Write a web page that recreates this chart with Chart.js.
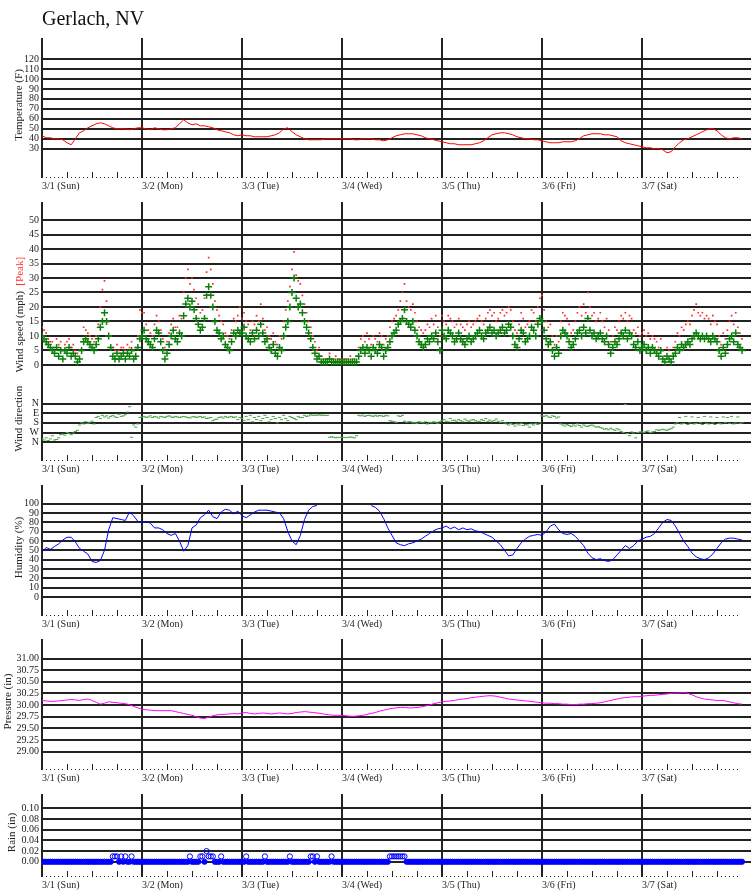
<!DOCTYPE html>
<html>
<head>
<meta charset="utf-8">
<title>Gerlach, NV</title>
<script src="https://cdn.jsdelivr.net/npm/chart.js@4.4.1/dist/chart.umd.min.js"></script>
<style>
  body { margin: 0; background: #fff; }
  #wrap { position: relative; width: 751px; height: 895px; overflow: hidden; }
  #wrap canvas { position: absolute; left: 0; }
</style>
</head>
<body>
<div id="wrap">
  <canvas id="c-temp" width="751" height="194" style="top:0px"></canvas>
  <canvas id="c-wind" width="751" height="284" style="top:193px"></canvas>
  <canvas id="c-hum" width="751" height="156" style="top:476px"></canvas>
  <canvas id="c-pres" width="751" height="156" style="top:630px"></canvas>
  <canvas id="c-rain" width="751" height="108" style="top:785px"></canvas>
</div>
<script>
// day labels on the time axis (one every 24 h)
const dayLabels = ['3/1 (Sun)', '3/2 (Mon)', '3/3 (Tue)', '3/4 (Wed)', '3/5 (Thu)', '3/6 (Fri)', '3/7 (Sat)'];

// tick values / labels for each panel
const tempTicks = [30, 40, 50, 60, 70, 80, 90, 100, 110, 120];
const speedTicks = [0, 5, 10, 15, 20, 25, 30, 35, 40, 45, 50];
const dirTicks = [0, 90, 180, 270, 360];
const dirLabels = ['N', 'E', 'S', 'W', 'N'];
const humTicks = [0, 10, 20, 30, 40, 50, 60, 70, 80, 90, 100];
const presTicks = [29.00, 29.25, 29.50, 29.75, 30.00, 30.25, 30.50, 30.75, 31.00];
const rainTicks = [0.00, 0.02, 0.04, 0.06, 0.08, 0.10];

// time bases: hourly readings and half-hourly readings from 3/1 00:00
const hours = Array.from({ length: 169 }, (_, i) => i);
const halfHours = Array.from({ length: 337 }, (_, i) => i / 2);
const hourTicks = Array.from({ length: 168 }, (_, i) => i);

// temperature (F), hourly
const tempF = [
  43, 41, 41, 40, 40, 39, 36, 34, 40, 46, 48, 51, 53, 55, 56, 55, 53, 51, 50, 50, 50, 49, 50, 51,
  51, 50, 49, 51, 50, 49, 49, 50, 51, 55, 59, 56, 54, 55, 53, 53, 52, 51, 49, 48, 47, 46, 44, 43,
  44, 43, 43, 42, 42, 42, 42, 43, 44, 46, 50, 51, 47, 44, 42, 40, 39, 39, 39, 39, 40, 40, 40, 40,
  40, 40, 40, 39, 39, 40, 40, 40, 39, 39, 38, 39, 41, 43, 44, 45, 45, 45, 44, 43, 41, 40, 39, 38,
  37, 36, 35, 35, 34, 34, 34, 34, 35, 36, 38, 41, 44, 45, 46, 46, 45, 44, 42, 41, 40, 40, 39, 39,
  38, 37, 36, 36, 36, 37, 37, 37, 38, 40, 43, 44, 45, 45, 45, 44, 44, 43, 42, 38, 36, 35, 34, 33,
  32, 31, 31, 30, 30, 29, 26, 27, 32, 36, 39, 40, 42, 44, 46, 48, 50, 50, 48, 44, 41, 40, 41, 41, 40
];

// wind speed (mph), half-hourly
const windMph = [
  10, 9, 8, 7, 6, 5, 4, 6, 3, 5, 2, 5, 4, 6, 3, 4, 3, 1, 2, 5, 8, 9, 8, 7, 6, 5, 7, 9, 13, 15, 18, 15, 10, 6, 3, 2, 4, 2, 3, 4, 2, 4, 3, 5, 2, 3, 6, 9,
  10, 12, 9, 8, 7, 6, 9, 12, 11, 8, 5, 2, 4, 7, 10, 12, 9, 8, 11, 10, 17, 21, 23, 20, 22, 19, 16, 14, 12, 13, 16, 24, 27, 24, 20, 15, 12, 11, 9, 10, 7, 6, 5, 8, 11, 10, 12, 11,
  11, 13, 10, 9, 8, 11, 9, 12, 10, 14, 11, 8, 9, 6, 5, 7, 4, 3, 6, 5, 10, 13, 15, 20, 25, 30, 23, 20, 21, 18, 15, 13, 11, 9, 6, 4, 2, 3, 1, 1, 1, 1, 2, 1, 1, 1, 1, 1,
  1, 1, 1, 1, 1, 1, 1, 1, 3, 5, 6, 4, 6, 5, 3, 6, 5, 4, 7, 6, 3, 5, 6, 8, 10, 11, 12, 14, 15, 16, 19, 15, 14, 13, 15, 12, 10, 8, 7, 6, 7, 9, 8, 10, 9, 11, 8, 5,
  12, 10, 9, 12, 11, 10, 8, 9, 11, 9, 8, 7, 9, 10, 8, 9, 10, 11, 12, 10, 9, 11, 12, 13, 11, 12, 10, 11, 12, 13, 11, 12, 14, 13, 10, 7, 6, 9, 12, 11, 8, 9, 10, 13, 12, 10, 14, 16,
  15, 12, 9, 7, 8, 5, 3, 6, 4, 10, 12, 11, 10, 8, 6, 7, 9, 11, 12, 10, 13, 11, 16, 12, 10, 11, 9, 10, 11, 9, 8, 10, 7, 4, 6, 8, 7, 9, 11, 10, 12, 9, 11, 10, 7, 6, 8, 5,
  6, 7, 5, 6, 4, 6, 5, 4, 3, 5, 2, 1, 3, 2, 1, 3, 4, 6, 5, 7, 6, 7, 8, 7, 9, 10, 11, 10, 9, 10, 9, 10, 9, 8, 10, 9, 8, 5, 3, 6, 4, 7, 9, 10, 8, 11, 7, 6, 5
];

// peak gust (mph), half-hourly
const windPeak = [
  13, 12, 11, 9, 8, 8, 6, 9, 7, 8, 5, 7, 8, 9, 6, 7, 5, 4, 5, 8, 13, 12, 11, 10, 9, 8, 10, 14, 20, 26, 29, 22, 15, 10, 6, 5, 7, 5, 6, 6, 5, 7, 6, 8, 5, 6, 10, 19,
  18, 18, 14, 12, 11, 10, 14, 17, 15, 12, 9, 6, 8, 11, 14, 16, 13, 13, 17, 16, 25, 30, 33, 28, 30, 26, 23, 21, 18, 19, 23, 32, 37, 33, 28, 22, 19, 17, 15, 14, 11, 10, 9, 12, 16, 15, 17, 20,
  16, 18, 15, 14, 12, 15, 14, 17, 15, 21, 16, 12, 13, 10, 9, 11, 8, 7, 10, 9, 15, 19, 22, 27, 33, 39, 31, 29, 28, 24, 21, 18, 15, 13, 10, 8, 5, 6, 3, 2, 2, 2, 4, 2, 2, 3, 2, 2,
  2, 2, 2, 2, 3, 2, 2, 3, 6, 9, 10, 8, 11, 9, 7, 10, 9, 8, 11, 10, 7, 9, 10, 13, 15, 16, 17, 19, 22, 25, 28, 22, 20, 19, 21, 18, 15, 13, 12, 11, 12, 14, 13, 16, 14, 17, 13, 10,
  17, 15, 14, 17, 16, 15, 13, 14, 16, 14, 13, 12, 14, 15, 13, 14, 15, 16, 17, 15, 14, 16, 18, 19, 17, 18, 15, 16, 18, 19, 17, 18, 20, 19, 15, 12, 11, 14, 18, 16, 13, 14, 15, 19, 18, 15, 20, 23,
  24, 19, 15, 13, 14, 10, 7, 10, 8, 15, 18, 17, 16, 14, 11, 12, 15, 18, 20, 17, 21, 18, 25, 20, 17, 18, 15, 16, 18, 15, 13, 16, 12, 8, 10, 13, 12, 15, 17, 16, 18, 15, 17, 16, 12, 11, 13, 10,
  11, 12, 10, 11, 9, 10, 9, 8, 6, 9, 5, 3, 6, 5, 3, 6, 8, 11, 10, 13, 12, 14, 15, 14, 17, 19, 21, 18, 17, 18, 16, 17, 16, 14, 17, 15, 14, 10, 7, 11, 9, 12, 15, 17, 14, 18, 13, 11, 9
];

// wind direction (degrees), half-hourly
const windDir = [
  330, 340, 320, 345, 330, 300, 340, 335, 320, 290, 285, 295, 270, 280, 290, 275, 260, 250, 200, 180, 190, 170, 185, 175, 165, 190,
  130, 120, 140, 110, 125, 115, 135, 120, 110, 125, 130, 100, 120, 115, 105, 80, 30, 315, 200, 220, 190, 130,
  125, 120, 130, 125, 115, 130, 120, 125, 135, 120, 125, 130, 120, 115, 125, 130, 120, 125, 130, 125, 120, 125, 130, 135,
  125, 120, 130, 125, 120, 130, 125, 140, 135, 130, 160, 150, 145, 130, 125, 135, 120, 130, 125, 120, 130, 125, 150, 130,
  140, 160, 120, 150, 110, 170, 130, 150, 120, 160, 140, 110, 130, 170, 150, 120, 140, 180, 130, 150, 110, 140, 160, 120,
  130, 140, 150, 120, 130, 130, 110, 120, 115, 105, 110, 108, 110, 105, 110, 108, 112, 110, 315, 310, 315, 320, 315, 315,
  315, 315, 318, 315, 312, 315, 320, 300, 110, 115, 108, 120, 112, 110, 115, 120, 110, 118, 112, 115, 120, 110,
  115, 160, 165, 170, 175, 115, 120, 110, 165, 175, 170, 170, 180, 175, 185, 170, 175, 180, 170, 190, 175, 180, 170, 175, 185, 170,
  160, 150, 165, 170, 140, 160, 155, 165, 150, 160, 170, 145, 160, 165, 155, 150, 160, 170, 165, 150, 160, 140, 165, 155,
  170, 160, 145, 165, 175, 160, 180, 190, 200, 185, 195, 210, 190, 200, 185, 205, 195, 200, 220, 190, 200, 185, 195, 180,
  115, 120, 110, 125, 130, 115, 120, 135, 125, 190, 200, 210, 195, 205, 215, 200, 210, 190, 205, 220, 200, 210, 215, 205,
  200, 210, 220, 215, 225, 230, 240, 235, 245, 230, 240, 250, 235, 245, 260, 270, 10, 280, 300, 265, 275, 320, 270, 265,
  265, 270, 260, 255, 270, 265, 260, 245, 250, 245, 240, 245, 250, 240, 235, 220, 190, 180, 130, 190, 185, 120, 195, 180, 125,
  190, 185, 130, 180, 195, 120, 185, 190, 125, 180, 195, 130, 185, 190, 125, 180, 130, 185, 120, 190, 180, 125, 185, 180
];

// relative humidity (%), hourly; null = no reading
const humidity = [
  48, 53, 51, 54, 57, 61, 64, 64, 59, 52, 49, 46, 38, 37, 39, 50, 72, 85, 84, 83, 82, 91, 87, 81,
  80, 81, 79, 74, 74, 72, 68, 66, 68, 60, 49, 55, 74, 77, 85, 88, 93, 86, 84, 91, 94, 93, 89, 92,
  87, 85, 88, 91, 93, 93, 93, 92, 91, 90, 84, 70, 60, 56, 66, 83, 93, 97, 98, null, null, null, null, null,
  null, null, null, null, null, null, null, 98, 96, 92, 84, 74, 66, 58, 56, 55, 57, 58, 60, 62, 65, 68, 71, 73,
  74, 76, 73, 75, 72, 74, 72, 73, 71, 70, 68, 66, 64, 60, 56, 50, 44, 45, 52, 58, 62, 65, 66, 67,
  66, 70, 76, 78, 72, 68, 67, 68, 65, 60, 55, 47, 42, 40, 41, 39, 38, 40, 45, 50, 55, 52, 55, 60,
  62, 64, 65, 68, 74, 80, 83, 82, 76, 68, 60, 54, 47, 43, 41, 40, 42, 46, 52, 58, 62, 63, 63, 62, 61
];

// barometric pressure (in), hourly
const pressureIn = [
  30.10, 30.09, 30.08, 30.08, 30.09, 30.10, 30.11, 30.12, 30.11, 30.10, 30.12, 30.13, 30.10, 30.06, 30.02, 30.04, 30.07, 30.06, 30.05, 30.04, 30.03, 30.01, 29.97, 29.94,
  29.91, 29.90, 29.89, 29.88, 29.88, 29.88, 29.88, 29.88, 29.86, 29.84, 29.82, 29.80, 29.78, 29.75, 29.72, 29.71, 29.74, 29.77, 29.79, 29.80, 29.80, 29.81, 29.82, 29.81,
  29.83, 29.84, 29.82, 29.81, 29.82, 29.83, 29.82, 29.81, 29.82, 29.83, 29.82, 29.81, 29.82, 29.84, 29.85, 29.86, 29.85, 29.84, 29.83, 29.82, 29.80, 29.79, 29.78, 29.78,
  29.78, 29.77, 29.76, 29.76, 29.77, 29.78, 29.80, 29.82, 29.84, 29.87, 29.89, 29.91, 29.93, 29.94, 29.95, 29.95, 29.94, 29.94, 29.95, 29.96, 29.98, 30.00, 30.03, 30.05,
  30.07, 30.08, 30.09, 30.10, 30.12, 30.13, 30.14, 30.16, 30.17, 30.18, 30.19, 30.20, 30.20, 30.19, 30.17, 30.15, 30.13, 30.12, 30.11, 30.10, 30.09, 30.08, 30.07, 30.06,
  30.05, 30.04, 30.04, 30.03, 30.03, 30.02, 30.02, 30.01, 30.01, 30.02, 30.02, 30.03, 30.03, 30.04, 30.05, 30.07, 30.09, 30.11, 30.13, 30.15, 30.16, 30.17, 30.18, 30.18,
  30.19, 30.20, 30.21, 30.21, 30.22, 30.23, 30.24, 30.25, 30.26, 30.26, 30.27, 30.25, 30.22, 30.18, 30.15, 30.13, 30.12, 30.11, 30.10, 30.10, 30.09, 30.07, 30.05, 30.03, 30.02
];

// rain (in), half-hourly
const rainIn = [
  0, 0, 0, 0, 0, 0, 0, 0, 0, 0, 0, 0, 0, 0, 0, 0, 0, 0, 0, 0, 0, 0, 0, 0, 0, 0, 0, 0, 0, 0, 0, 0, 0, 0, .01, .01, .01, 0, .01, 0, .01, 0, 0, .01, 0, 0, 0, 0,
  0, 0, 0, 0, 0, 0, 0, 0, 0, 0, 0, 0, 0, 0, 0, 0, 0, 0, 0, 0, 0, 0, 0, .01, 0, 0, 0, 0, .01, .01, 0, .02, .01, .01, .01, 0, 0, 0, .01, 0, 0, 0, 0, 0, 0, 0, 0, 0,
  0, 0, .01, 0, 0, 0, 0, 0, 0, 0, 0, .01, 0, 0, 0, 0, 0, 0, 0, 0, 0, 0, 0, .01, 0, 0, 0, 0, 0, 0, 0, 0, 0, .01, .01, 0, .01, 0, 0, 0, 0, 0, 0, .01, 0, 0, 0, 0,
  0, 0, 0, 0, 0, 0, 0, 0, 0, 0, 0, 0, 0, 0, 0, 0, 0, 0, 0, 0, 0, 0, 0, .01, .01, .01, .01, .01, .01, .01, .01, 0, 0, 0, 0, 0, 0, 0, 0, 0, 0, 0, 0, 0, 0, 0, 0, 0,
  0, 0, 0, 0, 0, 0, 0, 0, 0, 0, 0, 0, 0, 0, 0, 0, 0, 0, 0, 0, 0, 0, 0, 0, 0, 0, 0, 0, 0, 0, 0, 0, 0, 0, 0, 0, 0, 0, 0, 0, 0, 0, 0, 0, 0, 0, 0, 0,
  0, 0, 0, 0, 0, 0, 0, 0, 0, 0, 0, 0, 0, 0, 0, 0, 0, 0, 0, 0, 0, 0, 0, 0, 0, 0, 0, 0, 0, 0, 0, 0, 0, 0, 0, 0, 0, 0, 0, 0, 0, 0, 0, 0, 0, 0, 0, 0,
  0, 0, 0, 0, 0, 0, 0, 0, 0, 0, 0, 0, 0, 0, 0, 0, 0, 0, 0, 0, 0, 0, 0, 0, 0, 0, 0, 0, 0, 0, 0, 0, 0, 0, 0, 0, 0, 0, 0, 0, 0, 0, 0, 0, 0, 0, 0, 0, 0
];

const FONT = "'Liberation Serif', 'Times New Roman', Times, serif";
const INK = '#222';

function pts(times, values) {
  return values.map((v, i) => ({ x: times[i], y: v }));
}

// shared time axis: day lines, 6-hour ticks, hourly dots
function timeAxis() {
  const isDay = c => c.tick && c.tick.value % 24 === 0;
  const isSix = c => c.tick && c.tick.value % 6 === 0;
  return {
    type: 'linear',
    min: 0,
    max: 170.16,
    afterBuildTicks: a => { a.ticks = hourTicks.map(v => ({ value: v })); },
    afterFit: a => { a.height = 22; },
    border: { display: false },
    grid: {
      tickLength: 6,
      color: c => isDay(c) ? INK : 'rgba(0,0,0,0)',
      lineWidth: c => isDay(c) ? 2 : 1,
      tickColor: INK,
      tickWidth: c => isDay(c) ? 2 : 1,
      tickBorderDash: c => isSix(c) ? [] : [1, 5],
      tickBorderDashOffset: c => isSix(c) ? 0 : 1
    },
    ticks: {
      autoSkip: false,
      maxRotation: 0,
      minRotation: 0,
      align: 'start',
      padding: 2,
      color: INK,
      font: { family: FONT, size: 10 },
      callback: v => v % 24 === 0 ? dayLabels[v / 24] : ''
    }
  };
}

function valueAxis(min, max, tickValues, fmt, titleText, titleGap, extra) {
  return Object.assign({
    type: 'linear',
    position: 'left',
    min: min,
    max: max,
    afterBuildTicks: a => { a.ticks = tickValues.map(v => ({ value: v })); },
    afterFit: a => { a.width = 42; },
    border: { display: false },
    grid: { color: INK, lineWidth: 2, drawTicks: false },
    ticks: { autoSkip: false, padding: 3, color: INK, font: { family: FONT, size: 10 }, callback: fmt },
    title: {
      display: !!titleText,
      text: titleText,
      color: INK,
      font: { family: FONT, size: 11 },
      padding: { top: titleGap, bottom: 0 }
    }
  }, extra || {});
}

function baseOptions(scales, plugins) {
  return {
    responsive: false,
    animation: false,
    devicePixelRatio: 1,
    layout: { padding: 0, autoPadding: false },
    elements: { point: { radius: 0 }, line: { tension: 0 } },
    plugins: Object.assign({ legend: { display: false }, tooltip: { enabled: false } }, plugins || {}),
    scales: scales
  };
}

// two-colour axis title for the wind speed panel
const windTitle = {
  id: 'windTitle',
  afterDraw(chart) {
    const { ctx } = chart;
    const s = chart.scales.ySpd;
    ctx.save();
    ctx.font = '11px ' + FONT;
    ctx.textBaseline = 'middle';
    ctx.textAlign = 'left';
    ctx.translate(20, s.bottom - 10);
    ctx.rotate(-Math.PI / 2);
    ctx.fillStyle = INK;
    ctx.fillText('Wind speed (mph)', 0, 0);
    const w = ctx.measureText('Wind speed (mph)  ').width;
    ctx.fillStyle = '#ff3030';
    ctx.fillText('[Peak]', w, 0);
    ctx.restore();
  }
};

// Temperature
new Chart(document.getElementById('c-temp'), {
  type: 'line',
  data: {
    datasets: [{
      data: pts(hours, tempF),
      borderColor: '#ff0000',
      borderWidth: 1
    }]
  },
  options: baseOptions({
    x: timeAxis(),
    y: valueAxis(6.7, 141, tempTicks, v => String(v), 'Temperature (F)', 13)
  }, {
    title: {
      display: true,
      text: 'Gerlach, NV',
      align: 'start',
      fullSize: false,
      color: '#111',
      font: { family: FONT, size: 20, weight: 'normal' },
      padding: { top: 8, bottom: 6 }
    }
  })
});

// Wind speed + direction
new Chart(document.getElementById('c-wind'), {
  type: 'line',
  data: {
    datasets: [
      {
        data: pts(halfHours, windMph),
        yAxisID: 'ySpd',
        showLine: false,
        pointStyle: 'cross',
        pointRadius: 3.5,
        pointBorderColor: '#0a800a',
        pointBorderWidth: 1.5
      },
      {
        data: pts(halfHours, windPeak),
        yAxisID: 'ySpd',
        showLine: false,
        pointStyle: 'rect',
        pointRadius: 1.2,
        pointBackgroundColor: '#ff2a2a',
        pointBorderWidth: 0
      },
      {
        data: pts(halfHours, windDir),
        yAxisID: 'yDir',
        showLine: false,
        pointStyle: 'line',
        pointRadius: 1.6,
        pointBorderColor: '#4aa54a',
        pointBorderWidth: 1
      }
    ]
  },
  options: baseOptions({
    x: timeAxis(),
    ySpd: valueAxis(-6.1, 56.23, speedTicks, v => String(v), '', 13, { stack: 'wind', stackWeight: 187, weight: 1 }),
    yDir: valueAxis(-195.3, 479.7, dirTicks, v => dirLabels[dirTicks.indexOf(v)], 'Wind direction', 13,
      { stack: 'wind', stackWeight: 75, weight: 0, reverse: true })
  }),
  plugins: [windTitle]
});

// Humidity
new Chart(document.getElementById('c-hum'), {
  type: 'line',
  data: {
    datasets: [{
      data: pts(hours, humidity),
      borderColor: '#0000ff',
      borderWidth: 1,
      spanGaps: false
    }]
  },
  options: baseOptions({
    x: timeAxis(),
    y: valueAxis(-14, 120, humTicks, v => String(v), 'Humidity (%)', 13)
  })
});

// Pressure
new Chart(document.getElementById('c-pres'), {
  type: 'line',
  data: {
    datasets: [{
      data: pts(hours, pressureIn),
      borderColor: '#ff00ff',
      borderWidth: 1
    }]
  },
  options: baseOptions({
    x: timeAxis(),
    y: valueAxis(28.734, 31.42, presTicks, v => v.toFixed(2), 'Pressure (in)', 2)
  })
});

// Rain
new Chart(document.getElementById('c-rain'), {
  type: 'line',
  data: {
    datasets: [{
      data: pts(halfHours, rainIn),
      showLine: false,
      pointStyle: 'circle',
      pointRadius: 2.6,
      pointBorderWidth: 1,
      pointBorderColor: '#0000ff',
      pointBackgroundColor: c => (c.raw && c.raw.y === 0) ? '#0000ff' : 'rgba(255,255,255,0)'
    }]
  },
  options: baseOptions({
    x: timeAxis(),
    y: valueAxis(-0.0173, 0.1268, rainTicks, v => v.toFixed(2), 'Rain (in)', 6)
  })
});
</script>
</body>
</html>
